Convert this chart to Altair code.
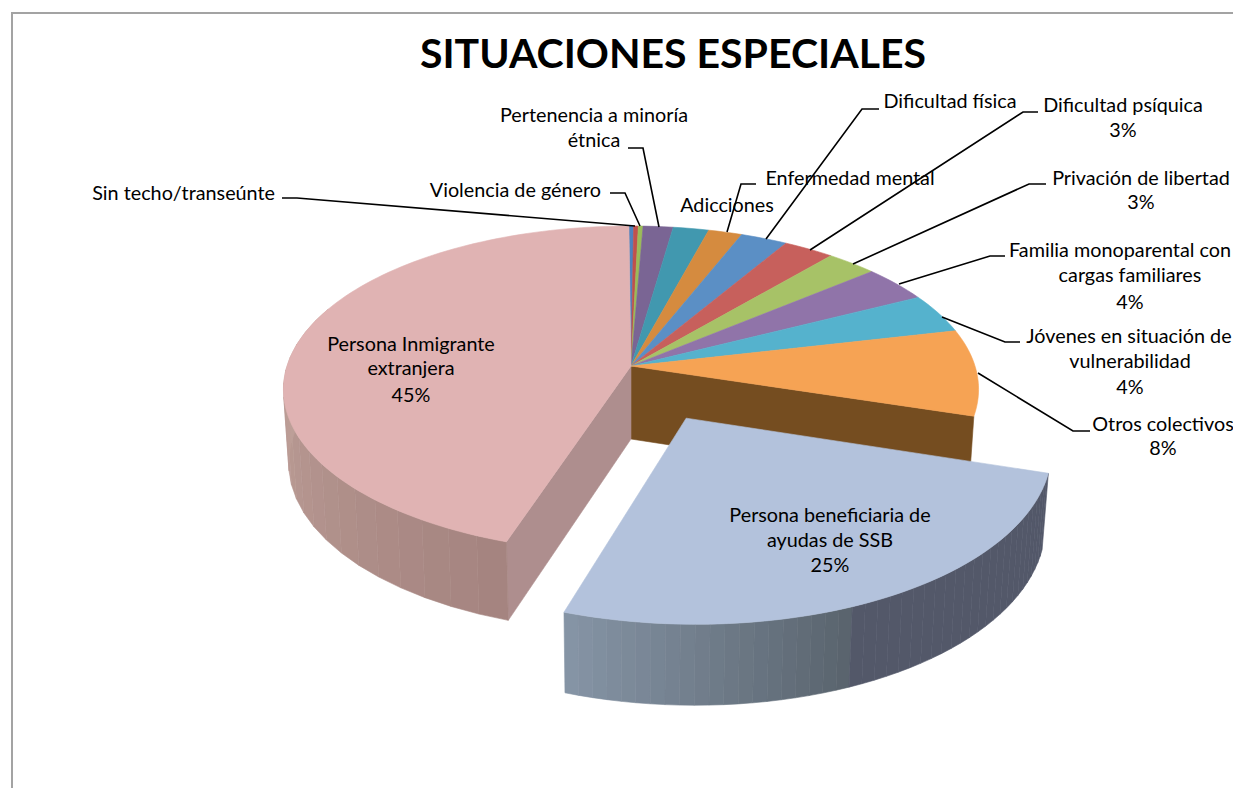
import math
import altair as alt
import pandas as pd

TITLE = "SITUACIONES ESPECIALES"
CATEGORIES = ["Sin techo/transeúnte", "(sin rótulo)", "Violencia de género", "Pertenencia a minoría étnica",
              "Adicciones", "Enfermedad mental", "Dificultad física", "Dificultad psíquica",
              "Privación de libertad", "Familia monoparental con cargas familiares",
              "Jóvenes en situación de vulnerabilidad", "Otros colectivos",
              "Persona beneficiaria de ayudas de SSB", "Persona Inmigrante extranjera"]
VALUES = [0.25, 0.25, 0.25, 1.6, 1.9, 1.8, 2.5, 2.7, 2.7, 3.6, 3.9, 8.5, 25.2, 44.8]
COLORS = ["#4f81bd", "#c0504d", "#9bbb59", "#7a6594", "#4198af", "#d58b3f", "#5b8fc5", "#c7605c",
          "#a7c267", "#9074a9", "#55b2cd", "#f6a354", "#b3c2dc", "#e0b3b3"]
BROWN_FACE = "#754d20"
PINK_FACE = "#ae8e8e"

# (text, anchor x, y, align)
LABEL_LINES = [
    ("Sin techo/transeúnte", 275, 194, "right"),
    ("Violencia de género", 601, 191, "right"),
    ("Pertenencia a minoría", 594, 116, "center"),
    ("étnica", 594, 141, "center"),
    ("Adicciones", 727, 206, "center"),
    ("Enfermedad mental", 850, 179, "center"),
    ("Dificultad física", 950, 102, "center"),
    ("Dificultad psíquica", 1123, 106, "center"),
    ("3%", 1123, 131, "center"),
    ("Privación de libertad", 1141, 179, "center"),
    ("3%", 1141, 203, "center"),
    ("Familia monoparental con", 1120, 251, "center"),
    ("cargas familiares", 1130, 276, "center"),
    ("4%", 1130, 303, "center"),
    ("Jóvenes en situación de", 1129, 337, "center"),
    ("vulnerabilidad", 1130, 362, "center"),
    ("4%", 1130, 388, "center"),
    ("Otros colectivos", 1163, 425, "center"),
    ("8%", 1163, 449, "center"),
    ("Persona Inmigrante", 411, 345, "center"),
    ("extranjera", 411, 369, "center"),
    ("45%", 411, 396, "center"),
    ("Persona beneficiaria de", 830, 516, "center"),
    ("ayudas de SSB", 830, 541, "center"),
    ("25%", 830, 566, "center"),
]
LEADERS = [
    [(282, 198), (297, 198), (635, 226)],
    [(610, 193), (625, 193), (640, 226)],
    [(628, 148), (643, 148), (659, 227)],
    [(756, 184), (741, 184), (727, 232)],
    [(879, 109), (862, 109), (766, 239)],
    [(1038, 112), (1023, 112), (810, 250)],
    [(1046, 184), (1029, 184), (853, 264)],
    [(1005, 256), (990, 256), (899, 284)],
    [(1020, 342), (1005, 342), (942, 317)],
    [(1090, 431), (1073, 431), (978, 373)],
]

OFF = 8
CX, CY = 631, 366
A, B, K = 344, 160, 0.143
DEPTH = 73
START = -0.4
EXPLODE = 0.35
EX_U = 0.96


def project(u, v, low=False):
    s = 1 / (1 + K * v)
    x = A * u * s
    y = -B * v * s
    if low:
        return [CX + x * 0.985, CY + y + DEPTH * s ** 0.5]
    return [CX + x, CY + y]


def disk(theta, ex=0.0, mid=0.0):
    t = math.radians(theta)
    m = math.radians(mid)
    return math.sin(t) + ex * EX_U * math.sin(m), math.cos(t) + ex * math.cos(m)


def feat(ring, color):
    ring = ring + [ring[0]]
    return {"type": "Feature", "properties": {"color": color},
            "geometry": {"type": "Polygon", "coordinates": [ring]}}


def mix(c1, c2, f):
    return "#%02x%02x%02x" % tuple(round(a + (b - a) * f) for a, b in zip(c1, c2))


total = sum(VALUES)
angles = [START]
for val in VALUES:
    angles.append(angles[-1] + val / total * 360)
SSB, PINK = 12, 13

features = []
a0 = angles[SSB]
features.append(feat([project(0, 0), project(*disk(a0)), project(*disk(a0), True), project(0, 0, True)], BROWN_FACE))
a1 = angles[PINK]
features.append(feat([project(0, 0), project(*disk(a1)), project(*disk(a1), True), project(0, 0, True)], PINK_FACE))
N = 20
sweep0, sweep1 = a1, 292
for i in range(N):
    t0 = sweep0 + (sweep1 - sweep0) * i / N
    t1 = sweep0 + (sweep1 - sweep0) * (i + 1) / N
    col = mix((165, 132, 128), (196, 166, 158), i / (N - 1))
    features.append(feat([project(*disk(t0)), project(*disk(t1)), project(*disk(t1), True), project(*disk(t0), True)], col))
for i, c in enumerate(COLORS):
    if i == SSB:
        continue
    steps = max(2, int((angles[i + 1] - angles[i]) / 1.5))
    ring = [project(0, 0)]
    for j in range(steps + 1):
        ring.append(project(*disk(angles[i] + (angles[i + 1] - angles[i]) * j / steps)))
    features.append(feat(ring, c))
a, b = angles[SSB], angles[SSB + 1]
mid = (a + b) / 2
N2 = 45
for i in range(N2):
    t0 = b - (b - a) * i / N2
    t1 = b - (b - a) * (i + 1) / N2
    f = i / (N2 * 0.44)
    col = mix((133, 148, 165), (88, 98, 108), f) if f < 1 else "#535869"
    features.append(feat([project(*disk(t0, EXPLODE, mid)), project(*disk(t1, EXPLODE, mid)),
                          project(*disk(t1, EXPLODE, mid), True), project(*disk(t0, EXPLODE, mid), True)], col))
ring = [project(EXPLODE * EX_U * math.sin(math.radians(mid)), EXPLODE * math.cos(math.radians(mid)))]
for j in range(61):
    ring.append(project(*disk(a + (b - a) * j / 60, EXPLODE, mid)))
features.append(feat(ring, COLORS[SSB]))

pie = alt.Chart(alt.Data(values=features)).mark_geoshape(strokeWidth=0.6).encode(
    color=alt.Color("properties.color:N", scale=None),
    stroke=alt.Color("properties.color:N", scale=None),
).project(type="identity", scale=1, translate=[-OFF, -OFF])

leader_rows = []
for n, pts in enumerate(LEADERS):
    for o, (x, y) in enumerate(pts):
        leader_rows.append({"line": n, "o": o, "x": x - OFF, "y": y - OFF})
leaders = alt.Chart(pd.DataFrame(leader_rows)).mark_line(color="#000000", strokeWidth=1.6).encode(
    x=alt.X("x:Q", scale=None, axis=None),
    y=alt.Y("y:Q", scale=None, axis=None),
    detail="line:N",
    order="o:Q",
)

frame_rows = [{"line": 0, "o": 0, "x": 12 - OFF, "y": 796 - OFF}, {"line": 0, "o": 1, "x": 12 - OFF, "y": 13 - OFF},
              {"line": 0, "o": 2, "x": 1241 - OFF, "y": 13 - OFF}]
frame = alt.Chart(pd.DataFrame(frame_rows)).mark_line(color="#a3a3a3", strokeWidth=2).encode(
    x=alt.X("x:Q", scale=None, axis=None),
    y=alt.Y("y:Q", scale=None, axis=None),
    detail="line:N",
    order="o:Q",
)


def text_layer(rows, **kw):
    df = pd.DataFrame(rows, columns=["t", "x", "y"])
    df["x"] -= OFF
    df["y"] -= OFF
    return alt.Chart(df).mark_text(font="Lato", color="#000000", baseline="middle", **kw).encode(
        x=alt.X("x:Q", scale=None, axis=None),
        y=alt.Y("y:Q", scale=None, axis=None),
        text="t:N",
    )


layers = [frame, pie, leaders]
for al in ("right", "center"):
    layers.append(text_layer([(t, x, y) for t, x, y, g in LABEL_LINES if g == al], align=al, fontSize=19.8))
layers.append(text_layer([(TITLE, 673, 56)], align="center", fontSize=41, fontWeight="bold"))

chart = alt.layer(*layers).properties(
    width=1225, height=780, padding=0, autosize=alt.AutoSizeParams(type="none"),
    background="#ffffff",
).configure_view(stroke=None)

chart.save("out.html", embed_options={"renderer": "svg", "actions": False})
